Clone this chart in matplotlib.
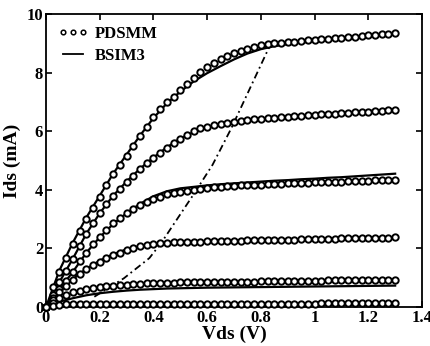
import numpy as np
import matplotlib
matplotlib.use("Agg")
import matplotlib.pyplot as plt
from matplotlib.lines import Line2D

# ---- data ----
vds_pts = np.linspace(0, 1.3, 53)      # PDSMM sample grid (0.025 V)
vds_line = np.linspace(0, 1.3, 27)     # BSIM3 sample grid (0.05 V)

pd1 = [0, 0.68, 1.2, 1.68, 2.15, 2.6, 3.02, 3.38, 3.75, 4.18, 4.55, 4.85, 5.15, 5.5, 5.83,
       6.15, 6.48, 6.75, 6.98, 7.18, 7.4, 7.62, 7.82, 8.02, 8.18, 8.32, 8.45, 8.56, 8.66, 8.75,
       8.82, 8.88, 8.93, 8.97, 9.0, 9.02, 9.04, 9.06, 9.08, 9.1, 9.12, 9.13, 9.15, 9.17, 9.19,
       9.21, 9.23, 9.25, 9.27, 9.29, 9.31, 9.33, 9.35]
pd2 = [0, 0.42, 0.85, 1.22, 1.65, 2.08, 2.5, 2.87, 3.2, 3.5, 3.78, 4.03, 4.26, 4.48, 4.7,
       4.9, 5.07, 5.25, 5.42, 5.6, 5.75, 5.88, 6.0, 6.1, 6.15, 6.2, 6.24, 6.28, 6.31, 6.34,
       6.37, 6.4, 6.42, 6.44, 6.46, 6.48, 6.5, 6.51, 6.53, 6.54, 6.56, 6.57, 6.59, 6.6, 6.61,
       6.63, 6.64, 6.65, 6.67, 6.68, 6.7, 6.71, 6.73]
pd3 = [0, 0.3, 0.6, 0.88, 1.2, 1.58, 1.86, 2.15, 2.4, 2.64, 2.85, 3.03, 3.2, 3.35, 3.48,
       3.58, 3.68, 3.77, 3.85, 3.9, 3.94, 3.97, 4.0, 4.03, 4.06, 4.08, 4.1, 4.12, 4.13, 4.15,
       4.16, 4.17, 4.18, 4.19, 4.2, 4.21, 4.22, 4.23, 4.24, 4.24, 4.25, 4.26, 4.27, 4.27, 4.28,
       4.29, 4.3, 4.3, 4.31, 4.32, 4.32, 4.33, 4.34]
pd4 = [0, 0.25, 0.5, 0.72, 0.92, 1.12, 1.3, 1.43, 1.55, 1.66, 1.76, 1.86, 1.95, 2.02, 2.08,
       2.13, 2.16, 2.18, 2.2, 2.21, 2.22, 2.22, 2.23, 2.23, 2.24, 2.24, 2.25, 2.25, 2.26, 2.26,
       2.27, 2.27, 2.28, 2.28, 2.29, 2.29, 2.3, 2.3, 2.31, 2.31, 2.32, 2.32, 2.33, 2.33, 2.34,
       2.34, 2.35, 2.35, 2.36, 2.36, 2.37, 2.37, 2.38]
pd5 = [0, 0.15, 0.3, 0.42, 0.5, 0.56, 0.6, 0.64, 0.67, 0.7, 0.72, 0.74, 0.76, 0.78, 0.8,
       0.81, 0.82, 0.82, 0.83, 0.83, 0.84, 0.84, 0.84, 0.85, 0.85, 0.85, 0.86, 0.86, 0.86, 0.87,
       0.87, 0.87, 0.88, 0.88, 0.88, 0.89, 0.89, 0.89, 0.9, 0.9, 0.9, 0.9, 0.91, 0.91, 0.91,
       0.91, 0.92, 0.92, 0.92, 0.92, 0.93, 0.93, 0.93]
pd6 = [0, 0.05, 0.08, 0.09, 0.1, 0.1, 0.1, 0.1, 0.1, 0.1, 0.1, 0.1, 0.1, 0.1, 0.1,
       0.1, 0.1, 0.1, 0.1, 0.1, 0.1, 0.11, 0.11, 0.11, 0.11, 0.11, 0.11, 0.11, 0.11, 0.11,
       0.11, 0.11, 0.11, 0.11, 0.11, 0.11, 0.11, 0.11, 0.11, 0.11, 0.11, 0.12, 0.12, 0.12, 0.12,
       0.12, 0.12, 0.12, 0.12, 0.12, 0.12, 0.12, 0.12]

bs1 = [0, 1.25, 2.2, 3.05, 3.8, 4.55, 5.2, 5.85, 6.45, 6.95, 7.35, 7.7, 7.98, 8.22, 8.45,
       8.65, 8.8, 8.9, 8.97, 9.02, 9.07, 9.11, 9.15, 9.19, 9.23, 9.27, 9.31]
bs2 = [0, 0.85, 1.65, 2.5, 3.2, 3.8, 4.28, 4.72, 5.1, 5.45, 5.75, 5.97, 6.12, 6.22, 6.3,
       6.36, 6.41, 6.46, 6.5, 6.54, 6.57, 6.6, 6.63, 6.66, 6.69, 6.72, 6.75]
bs3 = [0, 0.6, 1.2, 1.85, 2.38, 2.83, 3.2, 3.52, 3.78, 3.95, 4.05, 4.1, 4.15, 4.19, 4.22,
       4.25, 4.28, 4.31, 4.33, 4.36, 4.38, 4.41, 4.43, 4.46, 4.49, 4.52, 4.55]
bs4 = [0, 0.5, 0.95, 1.3, 1.58, 1.8, 1.97, 2.08, 2.15, 2.19, 2.21, 2.23, 2.24, 2.25, 2.26,
       2.27, 2.28, 2.29, 2.3, 2.31, 2.32, 2.33, 2.34, 2.35, 2.36, 2.37, 2.38]
bs5 = [0, 0.18, 0.3, 0.4, 0.47, 0.52, 0.56, 0.59, 0.61, 0.63, 0.64, 0.65, 0.66, 0.665, 0.67,
       0.675, 0.68, 0.685, 0.69, 0.695, 0.7, 0.705, 0.71, 0.715, 0.72, 0.725, 0.73]
bs6 = [0, 0.06, 0.08, 0.09, 0.09, 0.09, 0.09, 0.09, 0.09, 0.09, 0.09, 0.1, 0.1, 0.1, 0.1,
       0.1, 0.1, 0.1, 0.1, 0.1, 0.1, 0.1, 0.1, 0.1, 0.1, 0.1, 0.1]

vsat = [0.18, 0.29, 0.385, 0.43, 0.55, 0.62, 0.69, 0.83]
isat = [0.35, 0.98, 1.67, 2.2, 3.85, 4.85, 6.1, 8.85]

xticks = [0, 0.2, 0.4, 0.6, 0.8, 1.0, 1.2, 1.4]
xticklabels = ["0", "0.2", "0.4", "0.6", "0.8", "1", "1.2", "1.4"]
yticks = [0, 2, 4, 6, 8, 10]
yticklabels = ["0", "2", "4", "6", "8", "10"]

# ---- figure ----
plt.rcParams['font.family'] = ['Liberation Serif', 'DejaVu Serif']
plt.rcParams['font.weight'] = 'bold'

fig = plt.figure(figsize=(4.31, 3.46), dpi=100)
ax = fig.add_axes([46/431, 1 - 307/346, (422 - 46)/431, (307 - 14)/346])

for pd in [pd1, pd2, pd3, pd4, pd5, pd6]:
    ax.plot(vds_pts, pd, linestyle='none', marker='o', markersize=4.6,
            markerfacecolor='white', markeredgecolor='black', markeredgewidth=1.4,
            clip_on=False, zorder=3)
for bs in [bs1, bs2, bs3, bs4, bs5, bs6]:
    ax.plot(vds_line, bs, color='black', linewidth=1.6, zorder=2)

ax.plot(vsat, isat, color='black', linestyle=(0, (4, 2, 1, 2)), linewidth=1.3, zorder=2)

ax.set_xlim(0, 1.4)
ax.set_ylim(0, 10)
ax.set_xticks(xticks)
ax.set_xticklabels(xticklabels)
ax.set_yticks(yticks)
ax.set_yticklabels(yticklabels)
ax.tick_params(direction='in', length=4, width=1.2, top=True, right=True,
               labelsize=12, pad=2)
for s in ax.spines.values():
    s.set_linewidth(1.3)

ax.set_xlabel("Vds (V)", fontsize=14, fontweight='bold', labelpad=0)
ax.set_ylabel("Ids (mA)", fontsize=14, fontweight='bold', labelpad=4)

h1 = Line2D([], [], linestyle='none', marker='o', markersize=3.3,
            markerfacecolor='white', markeredgecolor='black', markeredgewidth=1.1)
h2 = Line2D([], [], color='black', linewidth=1.3)
leg = ax.legend([h1, h2], ["PDSMM", "BSIM3"], loc='upper left', frameon=False,
                numpoints=3, handlelength=1.8, handletextpad=0.4, labelspacing=0.35,
                borderaxespad=0.3, prop={'size': 12, 'weight': 'bold'})

fig.savefig("out.png", dpi=100)
